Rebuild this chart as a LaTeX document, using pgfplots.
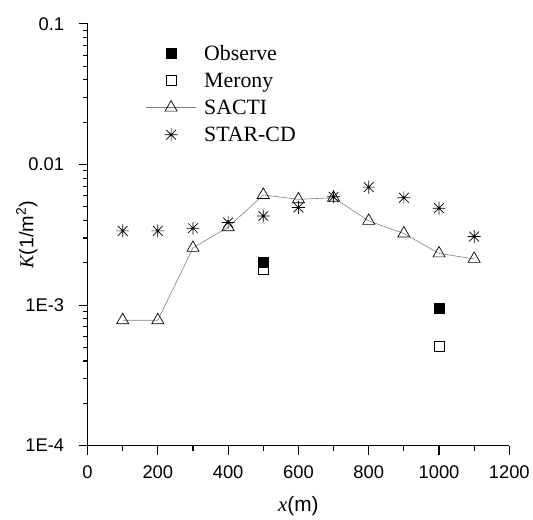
\documentclass[border=0pt]{standalone}
\usepackage{fontspec}
\setmainfont{Liberation Sans}
\newfontfamily\serif{Liberation Serif}
\usepackage{pgfplots}
\pgfplotsset{compat=1.18}
\pgfdeclareplotmark{ast8}{%
  \pgfpathmoveto{\pgfqpoint{0pt}{\pgfplotmarksize}}\pgfpathlineto{\pgfqpoint{0pt}{-\pgfplotmarksize}}%
  \pgfpathmoveto{\pgfqpoint{\pgfplotmarksize}{0pt}}\pgfpathlineto{\pgfqpoint{-\pgfplotmarksize}{0pt}}%
  \pgfpathmoveto{\pgfqpoint{.75\pgfplotmarksize}{.75\pgfplotmarksize}}\pgfpathlineto{\pgfqpoint{-.75\pgfplotmarksize}{-.75\pgfplotmarksize}}%
  \pgfpathmoveto{\pgfqpoint{-.75\pgfplotmarksize}{.75\pgfplotmarksize}}\pgfpathlineto{\pgfqpoint{.75\pgfplotmarksize}{-.75\pgfplotmarksize}}%
  \pgfusepathqstroke
  \pgfpathcircle{\pgfpointorigin}{0.18\pgfplotmarksize}\pgfusepathqfill
}
\pgfplotsset{
  legmark/.style={legend image code/.code={\draw[only marks, mark repeat=2, mark phase=2, ##1] plot coordinates {(0bp,0bp)(25bp,0bp)(50bp,0bp)};}},
  legline/.style={legend image code/.code={\draw[mark repeat=2, mark phase=2, ##1] plot coordinates {(0bp,0bp)(25bp,0bp)(50bp,0bp)};}},
}
\begin{document}
\begin{tikzpicture}
\begin{axis}[
  name=ax, scale only axis, width=424bp, height=424bp,
  at={(0,0)}, anchor=south west,
  ymode=log, xmin=0, xmax=1200, ymin=1e-4, ymax=0.1,
  axis x line*=bottom, axis y line*=left,
  axis line style={line width=1.1bp, -},
  tick align=outside,
  major tick length=9bp, minor tick length=5bp,
  every tick/.style={black, line width=1.1bp},
  xtick={0,200,400,600,800,1000,1200}, xticklabels={0,200,400,600,800,1000,1200},
  minor xtick={100,300,500,700,900,1100},
  ytick={1e-4,1e-3,1e-2,1e-1}, yticklabels={1E-4,1E-3,0.01,0.1},
  minor ytick={2e-4,3e-4,4e-4,5e-4,6e-4,7e-4,8e-4,9e-4,2e-3,3e-3,4e-3,5e-3,6e-3,7e-3,8e-3,9e-3,2e-2,3e-2,4e-2,5e-2,6e-2,7e-2,8e-2,9e-2},
  ticklabel style={font=\fontsize{18.5}{18.5}\selectfont},
  xticklabel style={yshift=-8bp},
  yticklabel style={xshift=-11bp},
  /pgf/number format/assume math mode=true,
  xlabel={{\serif\itshape x}(m)},
  ylabel={{\serif\itshape K}(1/m\textsuperscript{2})},
  every axis x label/.style={at={(axis description cs:0.5,0)}, yshift=-61bp, anchor=center, font=\fontsize{21}{21}\selectfont},
  every axis y label/.style={at={(axis description cs:0,0.5)}, xshift=-61bp, rotate=90, anchor=center, font=\fontsize{20}{20}\selectfont},
  legend style={draw=none, fill=none, at={(axis description cs:0.138,0.955)}, anchor=north west,
    font=\serif\fontsize{22}{26}\selectfont, row sep=7.2bp, inner sep=0pt,
    /tikz/every odd column/.style={column sep=6bp}},
  legend cell align=left,
]
\addplot[only marks, mark=square*, mark size=5bp, draw=black, fill=black, legmark]
  coordinates {(500,0.00201) (1000,0.00095)};
\addlegendentry{Observe}
\addplot[only marks, mark=square, mark size=5bp, draw=black, line width=0.7bp, legmark]
  coordinates {(500,0.00179) (1000,0.00051)};
\addlegendentry{Merony}
\addplot[color=gray, line width=0.6bp, mark=triangle, mark size=7bp,
  mark options={draw=black, fill=white, line width=0.7bp, solid}, legline]
  coordinates {(100,0.00078) (200,0.00078) (300,0.00255) (400,0.00358) (500,0.00607) (600,0.00565) (700,0.0058) (800,0.00397) (900,0.00323) (1000,0.00233) (1100,0.00213)};
\addlegendentry{SACTI}
\addplot[only marks, mark=ast8, mark size=6.5bp, draw=black, fill=black, line width=0.7bp, legmark]
  coordinates {(100,0.00337) (200,0.00337) (300,0.00352) (400,0.00387) (500,0.0043) (600,0.00494) (700,0.0059) (800,0.0069) (900,0.0058) (1000,0.00489) (1100,0.00307)};
\addlegendentry{STAR-CD}
\end{axis}
\path (-88bp,-70bp) rectangle (445bp,448bp);
\end{tikzpicture}
\end{document}
